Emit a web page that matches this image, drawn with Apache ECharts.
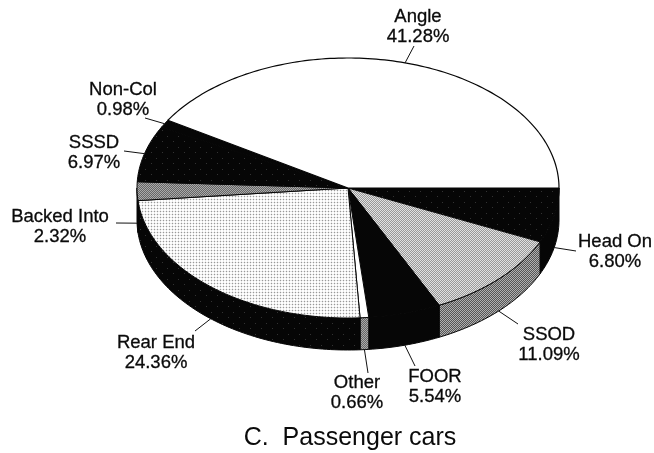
<!DOCTYPE html>
<html><head><meta charset="utf-8">
<style>html,body{margin:0;padding:0;background:#fff}#c{width:654px;height:453px}</style>
<script src="https://cdn.jsdelivr.net/npm/echarts@6/dist/echarts.min.js"></script>
</head><body><div id="c"></div>
<script>
const categories = ['Head On','SSOD','FOOR','Other','Rear End','Backed Into','SSSD','Non-Col','Angle'];
const shares = [6.80,11.09,5.54,0.66,24.36,2.32,6.97,0.98,41.28];
const shareLabels = ['6.80%','11.09%','5.54%','0.66%','24.36%','2.32%','6.97%','0.98%','41.28%'];
const captionText = 'C.  Passenger cars';

// layout only
const pie = {cx:348, cy:188, rx:211, ry:130, depth:32};
const labelCentres = [[615,252],[549,345],[435,387],[357,393],[156,353],[60,227],[94,153],[123,100],[418,27]];
const leaderEnds = [[576,251],[518,324],[415,366],[368,373],[195,331],[116,223],[124,151],[145,118],[414,46]];

function tile(n, fn){
  const c=document.createElement('canvas'); c.width=c.height=n;
  const g=c.getContext('2d');
  for(let y=0;y<n;y++)for(let x=0;x<n;x++){g.fillStyle=fn(x,y);g.fillRect(x,y,1,1);}
  return {image:c,repeat:'repeat'};
}
const K='#060606';
const lightDots = tile(3,(x,y)=>(x==1&&y==1)?'#999':(x==1||y==1)?'#eaeaea':'#fff');
const midCheck = tile(2,(x,y)=>(x+y)%2?'#999':'#e2e2e2');
const darkCheck = tile(2,(x,y)=>(x+y)%2?'#555':'#b0b0b0');
const grayCheck = tile(2,(x,y)=>(x+y)%2?'#666':'#aaa');
const speckle = tile(11,(x,y)=>(x==2&&y==4)||(x==8&&y==9)?'#333':K);

const topFill  = [speckle, midCheck, K, '#fff', lightDots, grayCheck, speckle, K, '#fff'];
const wallFill = [K, darkCheck, K, grayCheck, speckle, K, K, K, K];

const starts=[]; shares.reduce((a,v,i)=>(starts[i]=a,a+v),0);
const total=shares.reduce((a,b)=>a+b,0);
const toRad=v=>v/total*Math.PI*2;
const pt=(a,dz)=>[pie.cx+pie.rx*Math.cos(a), pie.cy+pie.ry*Math.sin(a)+(dz||0)];
function arc(a0,a1,dz){
  const n=Math.max(2,Math.ceil(Math.abs(a1-a0)/0.02)),o=[];
  for(let i=0;i<=n;i++)o.push(pt(a0+(a1-a0)*i/n,dz));
  return o;
}
function renderItem(params,api){
  const i=params.dataIndex, a0=toRad(starts[i]), a1=toRad(starts[i]+api.value(0));
  const kids=[];
  if(a0<Math.PI){
    const e=Math.min(a1,Math.PI);
    kids.push({type:'polygon',shape:{points:arc(a0,e,0).concat(arc(e,a0,pie.depth))},
      style:{fill:wallFill[i],stroke:K,lineWidth:1}});
  }
  kids.push({type:'polygon',shape:{points:[[pie.cx,pie.cy]].concat(arc(a0,a1,0))},
    style:{fill:topFill[i],stroke:K,lineWidth:i==8?1.2:1,lineJoin:'round'}});
  const m=(a0+a1)/2, inner=pt(m,Math.sin(m)>0?pie.depth:0);
  kids.push({type:'line',shape:{x1:inner[0],y1:inner[1],x2:leaderEnds[i][0],y2:leaderEnds[i][1]},
    style:{stroke:'#111',lineWidth:1}});
  kids.push({type:'text',z2:5,style:{text:categories[i]+'\n'+shareLabels[i],
    x:labelCentres[i][0],y:labelCentres[i][1],textAlign:'center',textVerticalAlign:'middle',
    fontFamily:'Liberation Sans',fontSize:18.5,lineHeight:20.5,fill:'#0a0a0a',stroke:'#0a0a0a',lineWidth:0.3}});
  return {type:'group',children:kids};
}
const chart=echarts.init(document.getElementById('c'),null,{renderer:'canvas'});
chart.setOption({
  animation:false,backgroundColor:'#fff',
  title:{text:captionText,left:345,top:421,textAlign:'center',
    textStyle:{fontFamily:'Liberation Sans',fontSize:25,fontWeight:'normal',color:'#0a0a0a'}},
  series:[{type:'custom',coordinateSystem:'none',renderItem,silent:true,
    data:shares.map((v,i)=>({name:categories[i],value:[v]}))}]
});
</script></body></html>
